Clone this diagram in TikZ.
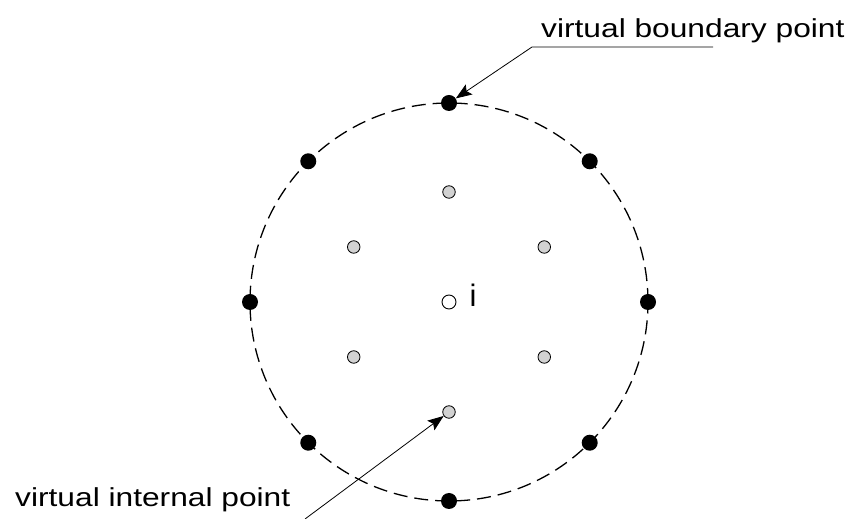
\documentclass[tikz,border=0pt]{standalone}
\usepackage{fontspec}
\setmainfont{Liberation Sans}
\newfontfamily\labfont[FakeStretch=1.22]{Liberation Sans}
\usetikzlibrary{arrows.meta,calc}

\begin{document}
\begin{tikzpicture}[x=1pt,y=1pt,
    bdot/.style={circle,fill=black,inner sep=0pt,minimum size=16pt},
    gdot/.style={circle,draw=black,fill=gray!35,line width=0.8pt,inner sep=0pt,minimum size=12.5pt},
    odot/.style={circle,draw=black,fill=white,line width=0.9pt,inner sep=0pt,minimum size=14pt},
    lbl/.style={font=\labfont\fontsize{26}{31}\selectfont,inner sep=0pt},
    lead/.style={line width=0.8pt,-{Stealth[length=16pt,width=12pt,inset=3pt]}}]
    \useasboundingbox (0,0) rectangle (852,519);

    % dashed support circle
    \coordinate (c) at (449,217);
    \draw[dash pattern=on 14pt off 7pt, line width=1.3pt] (c) circle (199pt);

    % virtual boundary points
    \foreach \a in {0,45,...,315}
        \node[bdot] (b\a) at ($(c)+(\a:199)$) {};
    % virtual internal points
    \foreach \a in {30,90,...,330}
        \node[gdot] (g\a) at ($(c)+(\a:110)$) {};
    % point i
    \node[odot] (pi) at (c) {};
    \node[anchor=base, inner sep=0pt, font=\fontsize{31}{37}\selectfont] (ilab) at (473,212) {i};

    % labels with leaders
    \node[lbl, anchor=base west] (blab) at (541,481) {virtual boundary point};
    \node[lbl, anchor=base west] (glab) at (15,12) {virtual internal point};
    \coordinate (ue) at (713,472);
    \coordinate (ub) at (532,472);
    \draw[lead] (ue) -- (ub) -- (b90);
    \coordinate (ls) at (305,0);
    \draw[lead] (ls) -- (g270);
\end{tikzpicture}
\end{document}
